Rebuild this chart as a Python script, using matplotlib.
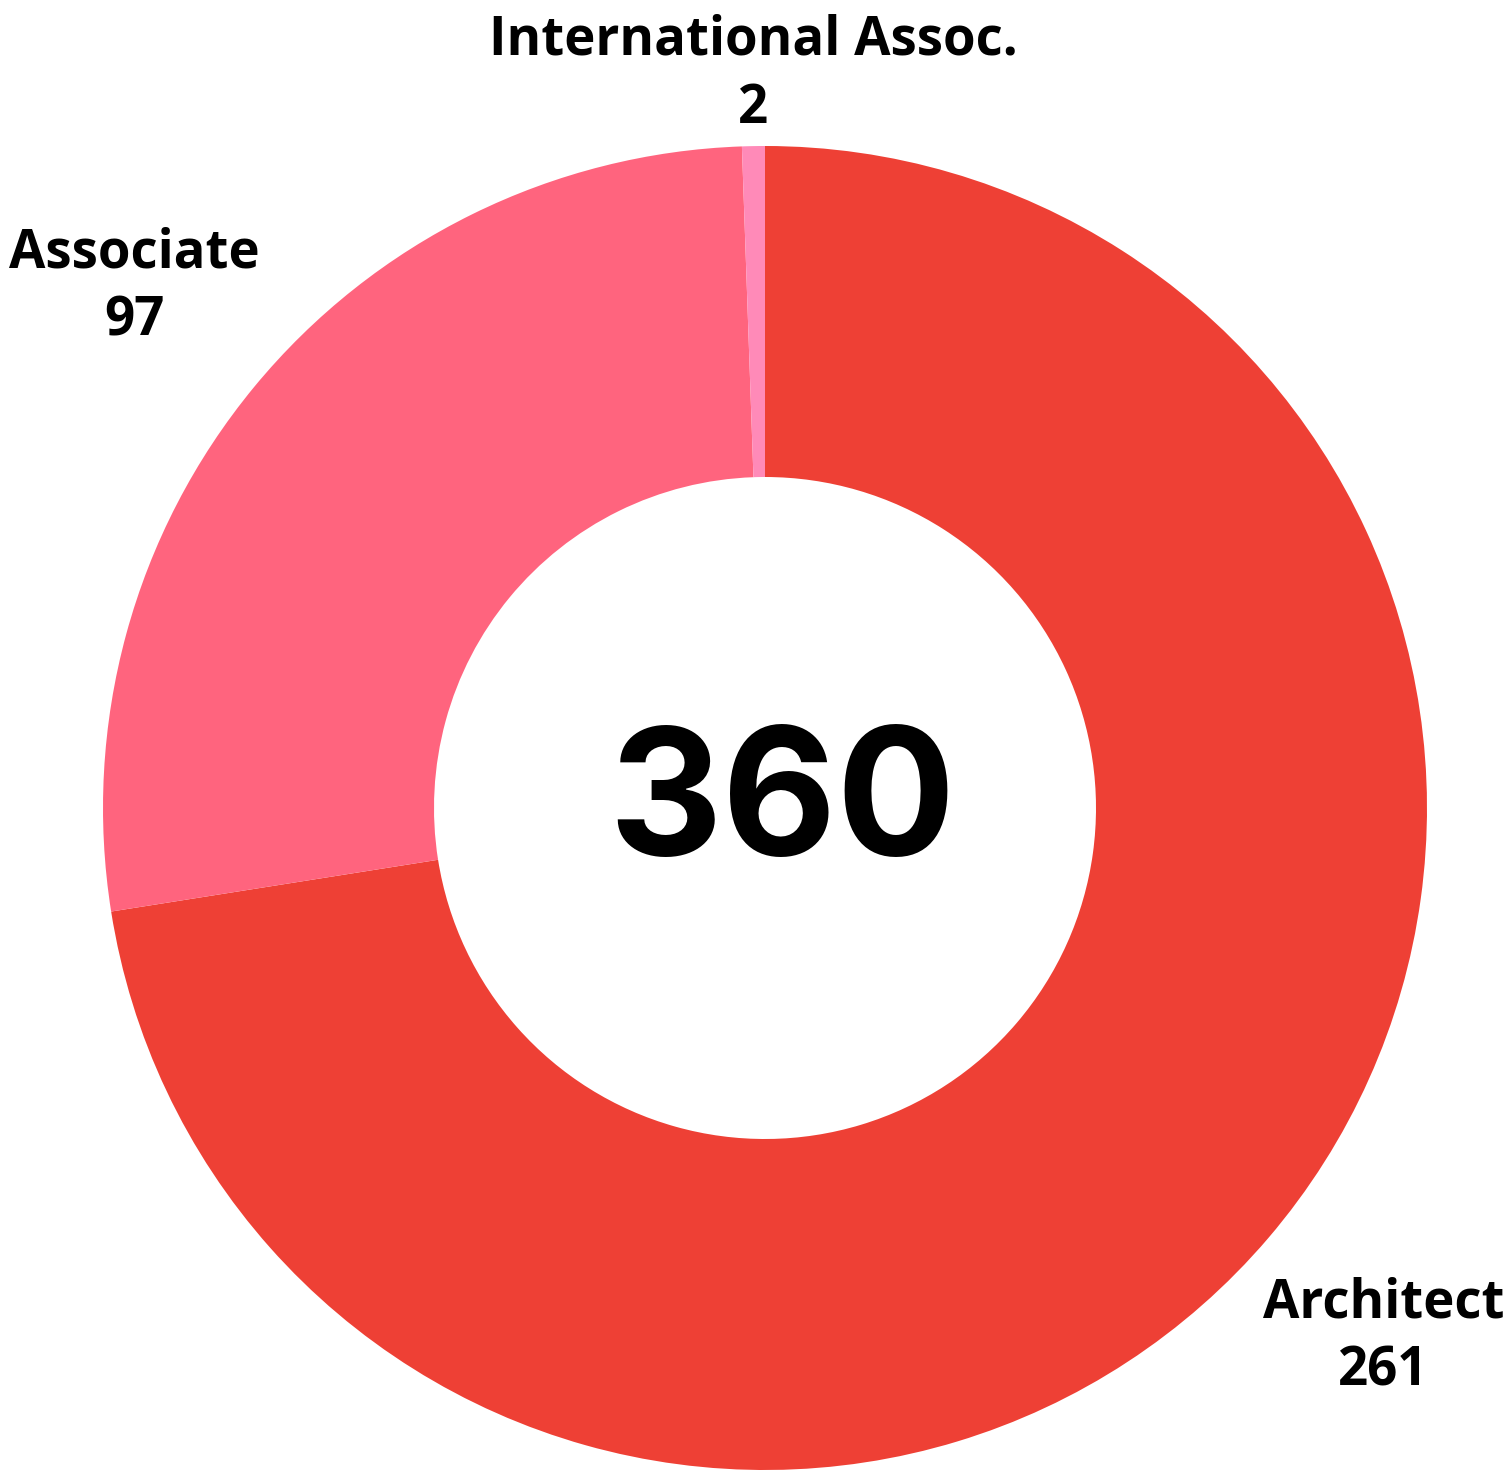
import matplotlib.pyplot as plt

# data
categories = ["Architect", "Associate", "International Assoc."]
counts = [261, 97, 2]
colors = ["#EE4035", "#FF647E", "#FF8AB8"]

total = sum(counts)

fig = plt.figure(figsize=(15.12, 14.70), dpi=100)
ax = fig.add_axes([0, 0, 1, 1])

ax.pie(counts, colors=colors, startangle=90, counterclock=False,
       radius=1.0, wedgeprops=dict(width=0.5, linewidth=0))

# keep the donut where it sits in the original picture (center 765,808 px, r 662 px)
cx, cy, r = 765, 808, 662
ax.set_xlim(-cx / r, (1512 - cx) / r)
ax.set_ylim(-(1470 - cy) / r, cy / r)
ax.axis("off")

# label positions (data coords)
label_pos = [(0.934, -0.800), (-0.952, 0.786), (-0.018, 1.108)]
for name, val, (x, y) in zip(categories, counts, label_pos):
    ax.text(x, y, f"{name}\n{val}", ha="center", va="center",
            fontsize=38, fontweight="bold", family="Open Sans",
            linespacing=1.35, color="black")

ax.text(0.026, -0.071, str(total), ha="center", va="baseline",
        fontsize=127, fontweight="bold", family="Inter", color="black")

fig.savefig("out.png", dpi=100)
